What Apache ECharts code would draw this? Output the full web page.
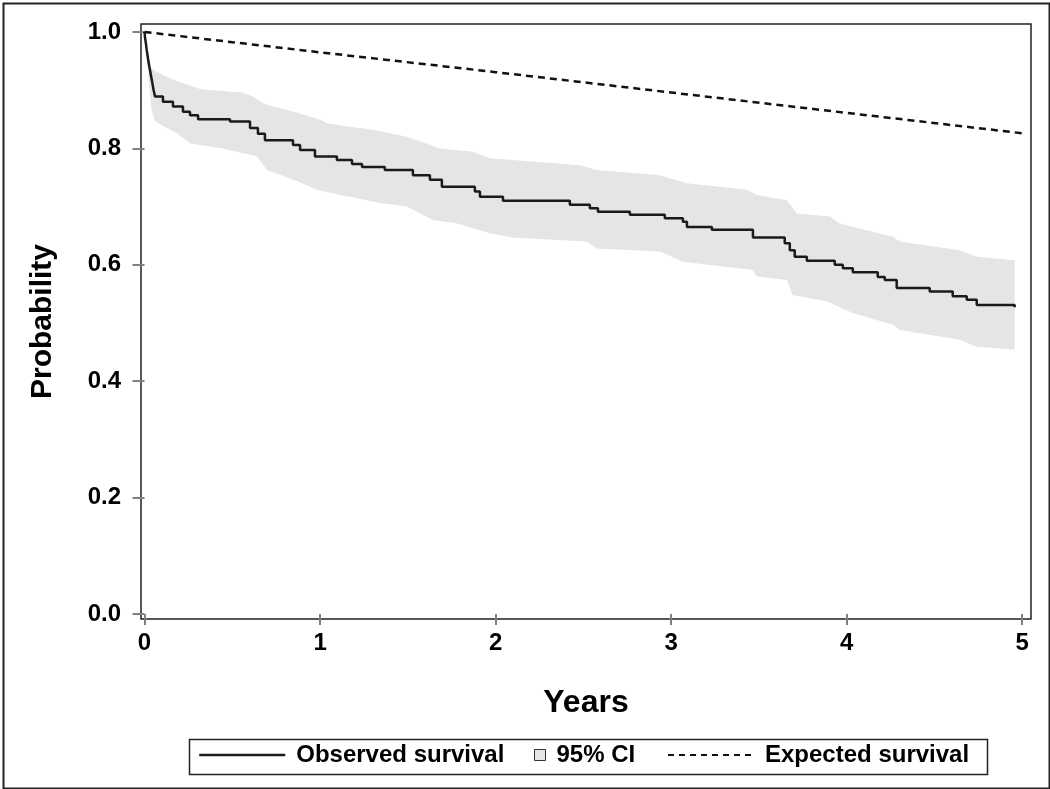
<!DOCTYPE html>
<html>
<head>
<meta charset="utf-8">
<script src="https://cdn.jsdelivr.net/npm/echarts@6/dist/echarts.min.js"></script>
<style>
html,body{margin:0;padding:0;background:#fff;}
#chart{width:1050px;height:789px;}
</style>
</head>
<body>
<div id="chart"></div>
<script>
// ---- data ----
const xTicks = [0, 1, 2, 3, 4, 5];
const yTicks = [0.0, 0.2, 0.4, 0.6, 0.8, 1.0];

// Observed survival (Kaplan-Meier step function): [years, probability]
const observedSurvival = [
  [0.000, 1.000], [0.003, 0.990], [0.008, 0.980], [0.012, 0.970], [0.017, 0.960],
  [0.022, 0.950], [0.028, 0.940], [0.034, 0.930], [0.040, 0.920], [0.046, 0.910],
  [0.052, 0.900], [0.060, 0.889], [0.105, 0.880], [0.162, 0.872], [0.219, 0.863],
  [0.259, 0.857], [0.305, 0.850], [0.487, 0.846], [0.601, 0.835], [0.646, 0.825],
  [0.686, 0.814], [0.846, 0.806], [0.886, 0.797], [0.971, 0.786], [1.096, 0.780],
  [1.182, 0.773], [1.239, 0.768], [1.369, 0.763], [1.529, 0.754], [1.626, 0.746],
  [1.694, 0.734], [1.882, 0.726], [1.911, 0.717], [2.042, 0.710], [2.423, 0.703],
  [2.537, 0.697], [2.583, 0.691], [2.765, 0.686], [2.964, 0.680], [3.067, 0.674],
  [3.090, 0.665], [3.232, 0.660], [3.466, 0.647], [3.647, 0.637], [3.676, 0.625],
  [3.704, 0.614], [3.773, 0.607], [3.932, 0.600], [3.978, 0.594], [4.035, 0.587],
  [4.177, 0.579], [4.217, 0.574], [4.285, 0.560], [4.473, 0.554], [4.604, 0.546],
  [4.684, 0.540], [4.741, 0.531], [4.957, 0.527]
];

// 95% CI upper bound: [years, probability]
const ciUpper = [
  [0.004, 1.000], [0.020, 0.960], [0.031, 0.940], [0.060, 0.933], [0.162, 0.918],
  [0.316, 0.902], [0.504, 0.897], [0.544, 0.897], [0.618, 0.889], [0.675, 0.878],
  [0.698, 0.875], [0.886, 0.860], [1.000, 0.849], [1.039, 0.843], [1.170, 0.837],
  [1.301, 0.832], [1.495, 0.820], [1.683, 0.800], [1.871, 0.794], [1.967, 0.783],
  [2.099, 0.780], [2.480, 0.771], [2.577, 0.763], [2.936, 0.754], [3.089, 0.740],
  [3.431, 0.729], [3.488, 0.720], [3.659, 0.711], [3.716, 0.688], [3.904, 0.683],
  [3.960, 0.671], [4.262, 0.648], [4.302, 0.640], [4.644, 0.625], [4.741, 0.614],
  [4.957, 0.608]
];

// 95% CI lower bound: [years, probability]
const ciLower = [
  [0.004, 0.985], [0.020, 0.930], [0.041, 0.866], [0.060, 0.846], [0.185, 0.826],
  [0.259, 0.809], [0.316, 0.806], [0.447, 0.800], [0.601, 0.789], [0.641, 0.786],
  [0.698, 0.763], [0.886, 0.742], [0.982, 0.729], [1.113, 0.720], [1.170, 0.717],
  [1.341, 0.706], [1.495, 0.700], [1.643, 0.677], [1.781, 0.671], [1.967, 0.654],
  [2.099, 0.647], [2.520, 0.640], [2.577, 0.628], [2.936, 0.623], [3.067, 0.605],
  [3.466, 0.591], [3.488, 0.580], [3.659, 0.574], [3.693, 0.548], [3.887, 0.537],
  [4.035, 0.517], [4.262, 0.497], [4.302, 0.488], [4.644, 0.471], [4.741, 0.459],
  [4.957, 0.454]
];

// Expected survival: [years, probability]
const expectedSurvival = [
  [0, 1.000], [1, 0.965], [2, 0.931], [3, 0.896], [4, 0.861], [5, 0.826]
];

// ---- chart ----
const FONT = '"Liberation Sans", Arial, sans-serif';
const chart = echarts.init(document.getElementById('chart'), null, {renderer: 'canvas'});

const legendText = {color: '#000', fontFamily: FONT, fontWeight: 'bold', fontSize: 24, padding: [0, 0, 0, 6]};
const hiddenSymbol = {color: 'rgba(0,0,0,0)', borderColor: 'rgba(0,0,0,0)', borderWidth: 0, opacity: 0};

const option = {
  backgroundColor: '#fff',
  animation: false,
  grid: {
    left: 141, top: 24, width: 890, height: 595,
    show: true, borderColor: '#222', borderWidth: 1.5, backgroundColor: 'transparent'
  },
  xAxis: {
    type: 'value', min: -0.02, max: 5.05,
    name: 'Years', nameLocation: 'middle', nameGap: 68,
    nameTextStyle: {color: '#000', fontFamily: FONT, fontWeight: 'bold', fontSize: 32},
    axisLine: {show: false},
    splitLine: {show: false},
    axisTick: {show: true, inside: false, length: 11, customValues: xTicks, lineStyle: {color: '#808080', width: 2}},
    axisLabel: {customValues: xTicks, margin: 12, color: '#000', fontFamily: FONT, fontWeight: 'bold', fontSize: 24,
      formatter: v => String(Math.round(v))}
  },
  yAxis: {
    type: 'value', min: -0.0086, max: 1.0137,
    name: 'Probability', nameLocation: 'middle', nameGap: 83,
    nameTextStyle: {color: '#000', fontFamily: FONT, fontWeight: 'bold', fontSize: 30},
    axisLine: {show: false},
    splitLine: {show: false},
    axisTick: {show: true, inside: false, length: 12, customValues: yTicks, lineStyle: {color: '#808080', width: 2}},
    axisLabel: {customValues: yTicks, margin: 20, color: '#000', fontFamily: FONT, fontWeight: 'bold', fontSize: 24,
      formatter: v => v.toFixed(1)}
  },
  legend: [
    {left: 198, top: 743, itemWidth: 86, itemHeight: 20, itemGap: 0, padding: 0,
      selectedMode: false, textStyle: legendText,
      data: [{name: 'Observed survival', itemStyle: hiddenSymbol, lineStyle: {width: 2.5, color: '#1a1a1a'}}]},
    {left: 534, top: 743, itemWidth: 11, itemHeight: 11, itemGap: 0, padding: 0,
      selectedMode: false, textStyle: legendText,
      data: [{name: '95% CI', icon: 'rect', itemStyle: {color: '#e5e5e5', borderColor: '#333', borderWidth: 1}}]},
    {left: 667, top: 743, itemWidth: 86, itemHeight: 20, itemGap: 0, padding: 0,
      selectedMode: false, textStyle: legendText,
      data: [{name: 'Expected survival', itemStyle: hiddenSymbol, lineStyle: {type: [6, 5], width: 2, color: '#111'}}]}
  ],
  graphic: [
    {type: 'rect', left: 1, top: 1, shape: {width: 1046, height: 785},
      style: {fill: null, stroke: '#222', lineWidth: 2}, silent: true, z: -1},
    {type: 'rect', left: 187, top: 737, shape: {width: 798, height: 35},
      style: {fill: null, stroke: '#222', lineWidth: 1.5}, silent: true}
  ],
  series: [
    {
      name: '95% CI', type: 'custom', clip: true, z: 1,
      itemStyle: {color: '#e5e5e5'},
      data: [[0, 0]],
      renderItem: function (params, api) {
        const pts = [];
        ciUpper.forEach(d => pts.push(api.coord(d)));
        for (let i = ciLower.length - 1; i >= 0; i--) pts.push(api.coord(ciLower[i]));
        return {type: 'polygon', shape: {points: pts}, style: {fill: '#e5e5e5', stroke: null}};
      }
    },
    {
      name: 'Observed survival', type: 'line', step: 'end', data: observedSurvival,
      symbol: 'none', showSymbol: false, z: 3,
      lineStyle: {color: '#1a1a1a', width: 2.5},
      itemStyle: {color: '#1a1a1a'}
    },
    {
      name: 'Expected survival', type: 'line', data: expectedSurvival,
      symbol: 'none', showSymbol: false, z: 3,
      lineStyle: {color: '#111', width: 2.5, type: [7, 5]},
      itemStyle: {color: '#111'}
    }
  ]
};
chart.setOption(option);
</script>
</body>
</html>
